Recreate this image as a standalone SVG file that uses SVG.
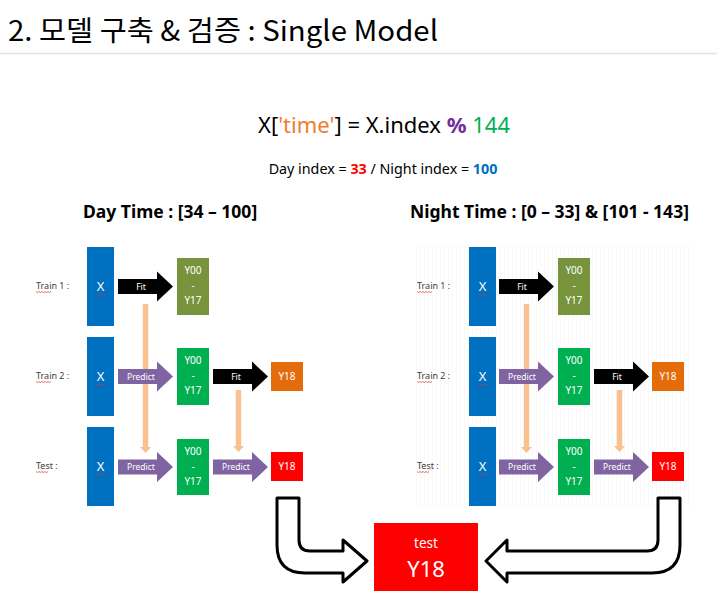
<svg xmlns="http://www.w3.org/2000/svg" width="717" height="600" viewBox="0 0 717 600">
<style>
text{font-family:"Noto Sans","Liberation Sans","Noto Sans CJK KR",sans-serif}
.title{font-family:"Noto Sans CJK KR","Noto Sans",sans-serif;font-size:28px;fill:#000}
.lbl{font-size:9px;fill:#404040}
.w{fill:#fff;text-anchor:middle}
.xt{font-size:13px}
.yt{font-size:10px}
.at{font-size:8.5px}
.hdr{font-size:17.5px;font-weight:bold;fill:#000}
.wave{fill:none;stroke:#e03030;stroke-width:0.7}
.uarr{fill:#fff;stroke:#000;stroke-width:3;stroke-linejoin:round}
.vl{fill:#FAC090}
</style>
<defs>
<path id="blk" d="M0,-7.5H39V-15L55,0L39,15V7.5H0Z"/>
<pattern id="stripes" width="4" height="4" patternUnits="userSpaceOnUse">
<rect x="0" y="0" width="1" height="4" fill="#f9f9f9"/>
</pattern>
<g id="panel">
<text class="lbl" x="36" y="289">Train 1 :</text>
<text class="lbl" x="36" y="379">Train 2 :</text>
<text class="lbl" x="36" y="469">Test :</text>
<path class="wave" d="M36,291.5l1.5,1l1.5,-1l1.5,1l1.5,-1l1.5,1l1.5,-1l1.5,1l1.5,-1l1.5,1l1.5,-1"/>
<path class="wave" d="M36,381.5l1.5,1l1.5,-1l1.5,1l1.5,-1l1.5,1l1.5,-1l1.5,1l1.5,-1l1.5,1l1.5,-1"/>
<path class="wave" d="M36,471.5l1.5,1l1.5,-1l1.5,1l1.5,-1l1.5,1l1.5,-1l1.5,1l1.5,-1"/>
</g>
</defs>

<!-- title -->
<text class="title" x="8" y="41" textLength="430" lengthAdjust="spacingAndGlyphs">2. 모델 구축 &amp; 검증 : Single Model</text>
<line x1="0" y1="53.5" x2="717" y2="53.5" stroke="#e3e3e3" stroke-width="1.5"/>

<!-- formula -->
<text x="384" y="133" font-size="22" text-anchor="middle" fill="#000">X[<tspan fill="#ED7D31">'time'</tspan>] = X.index <tspan fill="#7030A0" font-weight="bold">%</tspan> <tspan fill="#00B050">144</tspan></text>
<text x="383" y="174" font-size="14.3" text-anchor="middle" fill="#000">Day index = <tspan fill="#FF0000" font-weight="bold">33</tspan> / Night index = <tspan fill="#0070C0" font-weight="bold">100</tspan></text>

<!-- headers -->
<text class="hdr" x="83" y="218">Day Time : [34 – 100]</text>
<text class="hdr" x="410" y="218">Night Time : [0 – 33] &amp; [101 - 143]</text>

<!-- faint background of night panel -->
<rect x="415" y="245" width="275" height="262" fill="url(#stripes)"/>

<use href="#panel"/>
<use href="#panel" x="381"/>

<g id="connectors">
  <!-- day -->
  <rect class="vl" x="142.8" y="304" width="5.4" height="143"/>
  <path class="vl" d="M140,447H151L145.5,453Z"/>
  <rect class="vl" x="235.8" y="390" width="5.4" height="56"/>
  <path class="vl" d="M233,446H244L238.5,452Z"/>
  <use href="#blk" x="118" y="286.5" fill="#000"/>
  <use href="#blk" x="118" y="376.5" fill="#8064A2"/>
  <use href="#blk" x="213" y="376.5" fill="#000"/>
  <use href="#blk" x="118" y="467" fill="#8064A2"/>
  <use href="#blk" x="213" y="467" fill="#8064A2"/>
  <!-- night -->
  <rect class="vl" x="523.8" y="304" width="5.4" height="143"/>
  <path class="vl" d="M521,447H532L526.5,453Z"/>
  <rect class="vl" x="616.8" y="390" width="5.4" height="56"/>
  <path class="vl" d="M614,446H625L619.5,452Z"/>
  <use href="#blk" x="499" y="286.5" fill="#000"/>
  <use href="#blk" x="499" y="376.5" fill="#8064A2"/>
  <use href="#blk" x="594" y="376.5" fill="#000"/>
  <use href="#blk" x="499" y="467" fill="#8064A2"/>
  <use href="#blk" x="594" y="467" fill="#8064A2"/>
  <!-- arrow labels -->
  <g class="w at">
    <text x="141" y="290">Fit</text>
    <text x="141" y="380">Predict</text>
    <text x="236" y="380">Fit</text>
    <text x="141" y="470">Predict</text>
    <text x="236" y="470">Predict</text>
    <text x="522" y="290">Fit</text>
    <text x="522" y="380">Predict</text>
    <text x="617" y="380">Fit</text>
    <text x="522" y="470">Predict</text>
    <text x="617" y="470">Predict</text>
  </g>
  <!-- U arrows -->
  <path class="uarr" d="M277,498H299V540Q299,551 310,551H343V540L367,561L343,582V573H305Q277,573 277,545Z"/>
  <path class="uarr" d="M680,498H658V540Q658,551 647,551H507V540L486,561L507,582V573H652Q680,573 680,545Z"/>
</g>

<!-- Day nodes -->
<g id="day-train1-x"><rect x="87" y="247" width="27" height="79" fill="#0070C0"/><text class="w xt" x="100.5" y="291">X</text><path class="wave" d="M96,294l1.5,1l1.5,-1l1.5,1l1.5,-1l1.5,1l1.5,-1"/></g>
<g id="day-train1-y"><rect x="177" y="258" width="32" height="57" fill="#77933C"/><text class="w yt" x="193" y="274">Y00</text><text class="w yt" x="193" y="289">-</text><text class="w yt" x="193" y="304">Y17</text></g>
<g id="day-train2-x"><rect x="87" y="337" width="27" height="79" fill="#0070C0"/><text class="w xt" x="100.5" y="381">X</text><path class="wave" d="M96,384l1.5,1l1.5,-1l1.5,1l1.5,-1l1.5,1l1.5,-1"/></g>
<g id="day-train2-y"><rect x="177" y="348" width="32" height="57" fill="#00B050"/><text class="w yt" x="193" y="364">Y00</text><text class="w yt" x="193" y="379">-</text><text class="w yt" x="193" y="394">Y17</text></g>
<g id="day-train2-y18"><rect x="271" y="362" width="32" height="29" fill="#E46C0A"/><text class="w yt" x="287" y="380">Y18</text></g>
<g id="day-test-x"><rect x="87" y="427" width="27" height="79" fill="#0070C0"/><text class="w xt" x="100.5" y="471">X</text><path class="wave" d="M96,474l1.5,1l1.5,-1l1.5,1l1.5,-1l1.5,1l1.5,-1"/></g>
<g id="day-test-y"><rect x="177" y="439" width="32" height="56" fill="#00B050"/><text class="w yt" x="193" y="455">Y00</text><text class="w yt" x="193" y="470">-</text><text class="w yt" x="193" y="485">Y17</text></g>
<g id="day-test-y18"><rect x="271" y="452" width="32" height="29" fill="#FF0000"/><text class="w yt" x="287" y="470">Y18</text></g>

<!-- Night nodes -->
<g id="night-train1-x"><rect x="469" y="247" width="27" height="79" fill="#0070C0"/><text class="w xt" x="482.5" y="291">X</text><path class="wave" d="M478,294l1.5,1l1.5,-1l1.5,1l1.5,-1l1.5,1l1.5,-1"/></g>
<g id="night-train1-y"><rect x="558" y="258" width="32" height="57" fill="#77933C"/><text class="w yt" x="574" y="274">Y00</text><text class="w yt" x="574" y="289">-</text><text class="w yt" x="574" y="304">Y17</text></g>
<g id="night-train2-x"><rect x="469" y="337" width="27" height="79" fill="#0070C0"/><text class="w xt" x="482.5" y="381">X</text><path class="wave" d="M478,384l1.5,1l1.5,-1l1.5,1l1.5,-1l1.5,1l1.5,-1"/></g>
<g id="night-train2-y"><rect x="558" y="348" width="32" height="57" fill="#00B050"/><text class="w yt" x="574" y="364">Y00</text><text class="w yt" x="574" y="379">-</text><text class="w yt" x="574" y="394">Y17</text></g>
<g id="night-train2-y18"><rect x="652" y="362" width="32" height="29" fill="#E46C0A"/><text class="w yt" x="668" y="380">Y18</text></g>
<g id="night-test-x"><rect x="469" y="427" width="27" height="79" fill="#0070C0"/><text class="w xt" x="482.5" y="471">X</text><path class="wave" d="M478,474l1.5,1l1.5,-1l1.5,1l1.5,-1l1.5,1l1.5,-1"/></g>
<g id="night-test-y"><rect x="558" y="439" width="32" height="56" fill="#00B050"/><text class="w yt" x="574" y="455">Y00</text><text class="w yt" x="574" y="470">-</text><text class="w yt" x="574" y="485">Y17</text></g>
<g id="night-test-y18"><rect x="652" y="452" width="32" height="29" fill="#FF0000"/><text class="w yt" x="668" y="470">Y18</text></g>

<!-- final test Y18 -->
<g id="test-y18"><rect x="374" y="523" width="104" height="68" fill="#FF0000"/><text class="w" x="426" y="548" font-size="13.5">test</text><text class="w" x="426" y="577" font-size="22">Y18</text></g>
</svg>
